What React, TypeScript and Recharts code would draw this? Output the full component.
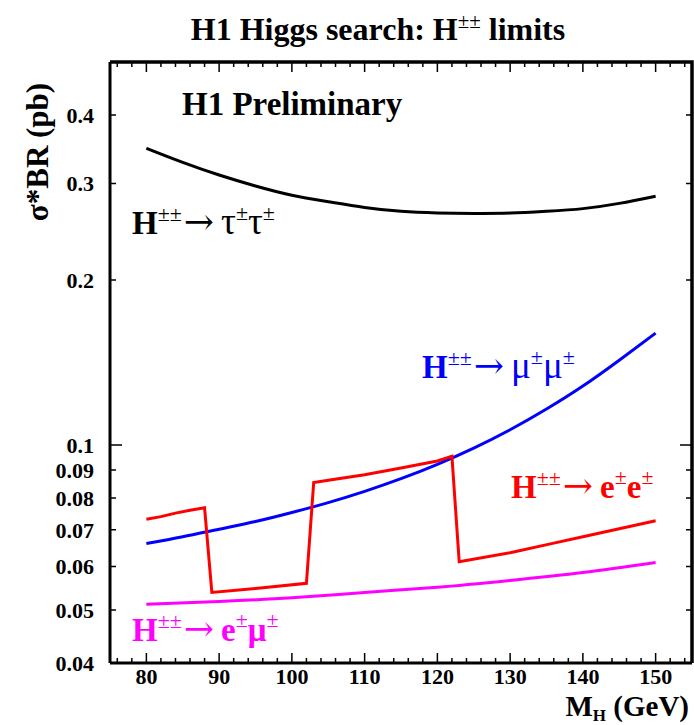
import React from 'react'
import { LineChart, Line, XAxis, YAxis } from 'recharts'

const massGrid = [80, 85, 90, 95, 100, 105, 110, 115, 120, 125, 130, 135, 140, 145, 150]
const tauLimit = [0.348, 0.328, 0.311, 0.297, 0.2857, 0.278, 0.2714, 0.267, 0.2652, 0.2646, 0.265, 0.267, 0.27, 0.276, 0.2845]
const muLimit = [0.0661, 0.068, 0.0702, 0.0725, 0.0753, 0.0785, 0.0823, 0.0868, 0.0922, 0.0987, 0.1066, 0.1163, 0.1281, 0.1428, 0.16]

const emuMass = [80, 90, 100, 110, 120, 130, 140, 150]
const emuLimit = [0.0512, 0.0518, 0.0526, 0.0538, 0.055, 0.0566, 0.0585, 0.061]

// e+e+ limit has steps where the analysis changes
const eeMass = [80, 82, 84, 86, 88, 89, 95, 102, 103, 105, 110, 115, 120, 122, 123, 130, 136, 140, 145, 150]
const eeLimit = [0.0732, 0.074, 0.0751, 0.076, 0.0768, 0.0538, 0.0547, 0.0559, 0.0854, 0.0862, 0.0882, 0.0908, 0.0935, 0.0954, 0.0612, 0.0636, 0.0662, 0.068, 0.0703, 0.0727]

const yTicks = [0.04, 0.05, 0.06, 0.07, 0.08, 0.09, 0.1, 0.2, 0.3, 0.4]
const yTickLabels = ['0.04', '0.05', '0.06', '0.07', '0.08', '0.09', '0.1', '0.2', '0.3', '0.4']
const xTicks = [76, 78, 80, 82, 84, 86, 88, 90, 92, 94, 96, 98, 100, 102, 104, 106, 108, 110, 112, 114, 116, 118, 120, 122, 124, 126, 128, 130, 132, 134, 136, 138, 140, 142, 144, 146, 148, 150, 152, 154]

const W = 694
const H = 725
// frame of the plot area in page pixels
const PLOT = { left: 110, top: 62, right: 692, bottom: 663 }

const toRows = (xs: number[], ys: number[]) => xs.map((m, i) => ({ m, v: ys[i] }))

const FONT = "'Liberation Serif', 'Times New Roman', serif"

// left labels + inward ticks on both the left and right edges
const YTick = (props: any) => {
  const { x, y, payload } = props
  const v = payload.value
  const len = v === 0.1 ? 12 : 6
  return (
    <g>
      <path d={`M${x},${y}h${len}M${PLOT.right},${y}h${-len}`} stroke="#000" strokeWidth={1.5} fill="none" />
      <text x={x - 16} y={y} dy="0.36em" textAnchor="end" fontFamily={FONT} fontWeight="bold" fontSize={22} fill="#000">
        {yTickLabels[yTicks.indexOf(v)]}
      </text>
    </g>
  )
}

// bottom labels + inward ticks on both the bottom and top edges
const XTick = (props: any) => {
  const { x, y, payload } = props
  const major = payload.value % 10 === 0
  const len = major ? 10 : 5
  return (
    <g>
      <path d={`M${x},${y}v${-len}M${x},${PLOT.top}v${len}`} stroke="#000" strokeWidth={1.5} fill="none" />
      {major && (
        <text x={x} y={y + 21} textAnchor="middle" fontFamily={FONT} fontWeight="bold" fontSize={22} fill="#000">
          {payload.value}
        </text>
      )}
    </g>
  )
}

function Decay({ x, y, color, a, b, greek }: { x: number; y: number; color: string; a: string; b: string; greek: boolean }) {
  const pw = greek ? 'normal' : 'bold'
  const ps = greek ? 37 : 33
  return (
    <text x={x} y={y} fill={color} fontFamily={FONT} fontWeight="bold" fontSize={33}>
      H<tspan fontSize={22} fontWeight="normal" dy={-13}>±±</tspan>
      <tspan dx={2} dy={13} fontWeight="normal" fontSize={36} fontFamily="'DejaVu Serif', serif">→</tspan>
      <tspan dx={7} fontWeight={pw} fontSize={ps}>{a}</tspan>
      <tspan fontSize={22} fontWeight="normal" dy={-14}>±</tspan>
      <tspan dy={14} fontWeight={pw} fontSize={ps}>{b}</tspan>
      <tspan fontSize={22} fontWeight="normal" dy={-14}>±</tspan>
    </text>
  )
}

export default function App() {
  return (
    <div style={{ position: 'relative', width: W, height: H, background: '#fff' }}>
      <style>{'body{margin:0}'}</style>
      <LineChart width={W} height={H} margin={{ top: PLOT.top, right: W - PLOT.right, bottom: 0, left: 0 }}>
        <XAxis
          xAxisId="b"
          type="number"
          dataKey="m"
          domain={[75, 155]}
          ticks={xTicks}
          interval={0}
          height={H - PLOT.bottom}
          tickSize={0}
          tickMargin={0}
          tick={<XTick />}
          axisLine={{ stroke: '#000', strokeWidth: 3 }}
          allowDataOverflow
        />
        <YAxis
          yAxisId="l"
          type="number"
          scale="log"
          domain={[0.04, 0.5]}
          ticks={yTicks}
          interval={0}
          width={PLOT.left}
          tickSize={0}
          tickMargin={0}
          tick={<YTick />}
          axisLine={{ stroke: '#000', strokeWidth: 3 }}
          allowDataOverflow
        />
        <Line xAxisId="b" yAxisId="l" data={toRows(massGrid, tauLimit)} dataKey="v" type="natural" stroke="#000" strokeWidth={3} dot={false} isAnimationActive={false} />
        <Line xAxisId="b" yAxisId="l" data={toRows(massGrid, muLimit)} dataKey="v" type="natural" stroke="#0000ff" strokeWidth={3} dot={false} isAnimationActive={false} />
        <Line xAxisId="b" yAxisId="l" data={toRows(eeMass, eeLimit)} dataKey="v" type="linear" stroke="#ff0000" strokeWidth={3} dot={false} isAnimationActive={false} />
        <Line xAxisId="b" yAxisId="l" data={toRows(emuMass, emuLimit)} dataKey="v" type="natural" stroke="#ff00ff" strokeWidth={3} dot={false} isAnimationActive={false} />
      </LineChart>

      <svg width={W} height={H} style={{ position: 'absolute', left: 0, top: 0, pointerEvents: 'none' }}>
        <path
          d={`M${PLOT.left},${PLOT.top}H${PLOT.right}V${PLOT.bottom}`}
          fill="none"
          stroke="#000"
          strokeWidth={3.5}
        />
        <text x={378} y={40} textAnchor="middle" fontFamily={FONT} fontWeight="bold" fontSize={32} fill="#000">
          H1 Higgs search: H<tspan fontSize={21} fontWeight="normal" dy={-12}>±±</tspan>
          <tspan dy={12}> limits</tspan>
        </text>
        <text x={182} y={115} fontFamily={FONT} fontWeight="bold" fontSize={33} fill="#000">H1 Preliminary</text>
        <text transform="translate(48,152) rotate(-90)" textAnchor="middle" fontFamily={FONT} fontWeight="bold" fontSize={31} fill="#000">
          σ*BR (pb)
        </text>
        <text x={689} y={716} textAnchor="end" fontFamily={FONT} fontWeight="bold" fontSize={29} fill="#000">
          M<tspan fontSize={17} dy={5}>H</tspan>
          <tspan dy={-5}> (GeV)</tspan>
        </text>
        <Decay x={132} y={234} color="#000" a="τ" b="τ" greek />
        <Decay x={422} y={378} color="#0000ff" a="μ" b="μ" greek />
        <Decay x={511} y={498} color="#ff0000" a="e" b="e" greek={false} />
        <Decay x={132} y={641} color="#ff00ff" a="e" b="μ" greek={false} />
      </svg>
    </div>
  )
}
